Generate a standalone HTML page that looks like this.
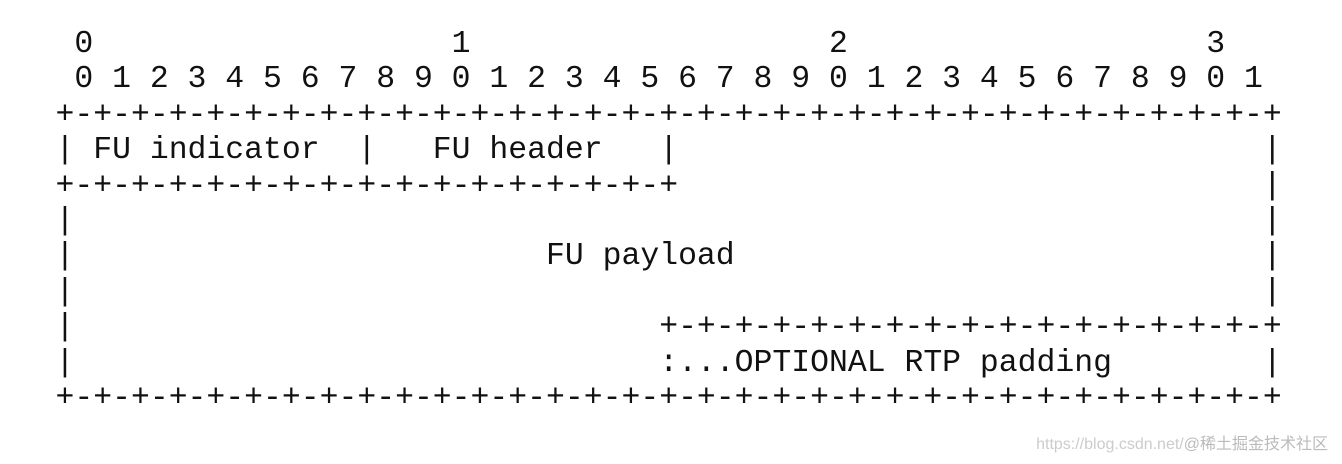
<!DOCTYPE html>
<html><head><meta charset="utf-8"><style>
html,body{margin:0;padding:0;background:#fff;width:1342px;height:464px;overflow:hidden;position:relative}
pre{position:absolute;left:55.5px;top:27px;margin:0;font-family:"Liberation Mono",monospace;font-size:31.45px;line-height:35.4px;color:#111;letter-spacing:0}
.wm{position:absolute;right:14px;top:430px;font-family:"Liberation Sans","Noto Sans CJK SC",sans-serif;font-size:16px;color:#ccc}
.wm b{font-weight:normal;color:#bbb}
</style></head><body>
<pre> 0                   1                   2                   3
 0 1 2 3 4 5 6 7 8 9 0 1 2 3 4 5 6 7 8 9 0 1 2 3 4 5 6 7 8 9 0 1
+-+-+-+-+-+-+-+-+-+-+-+-+-+-+-+-+-+-+-+-+-+-+-+-+-+-+-+-+-+-+-+-+
| FU indicator  |   FU header   |                               |
+-+-+-+-+-+-+-+-+-+-+-+-+-+-+-+-+                               |
|                                                               |
|                         FU payload                            |
|                                                               |
|                               +-+-+-+-+-+-+-+-+-+-+-+-+-+-+-+-+
|                               :...OPTIONAL RTP padding        |
+-+-+-+-+-+-+-+-+-+-+-+-+-+-+-+-+-+-+-+-+-+-+-+-+-+-+-+-+-+-+-+-+</pre>
<div class="wm">https://blog.csdn.net/<b>@稀土掘金技术社区</b></div>
</body></html>
